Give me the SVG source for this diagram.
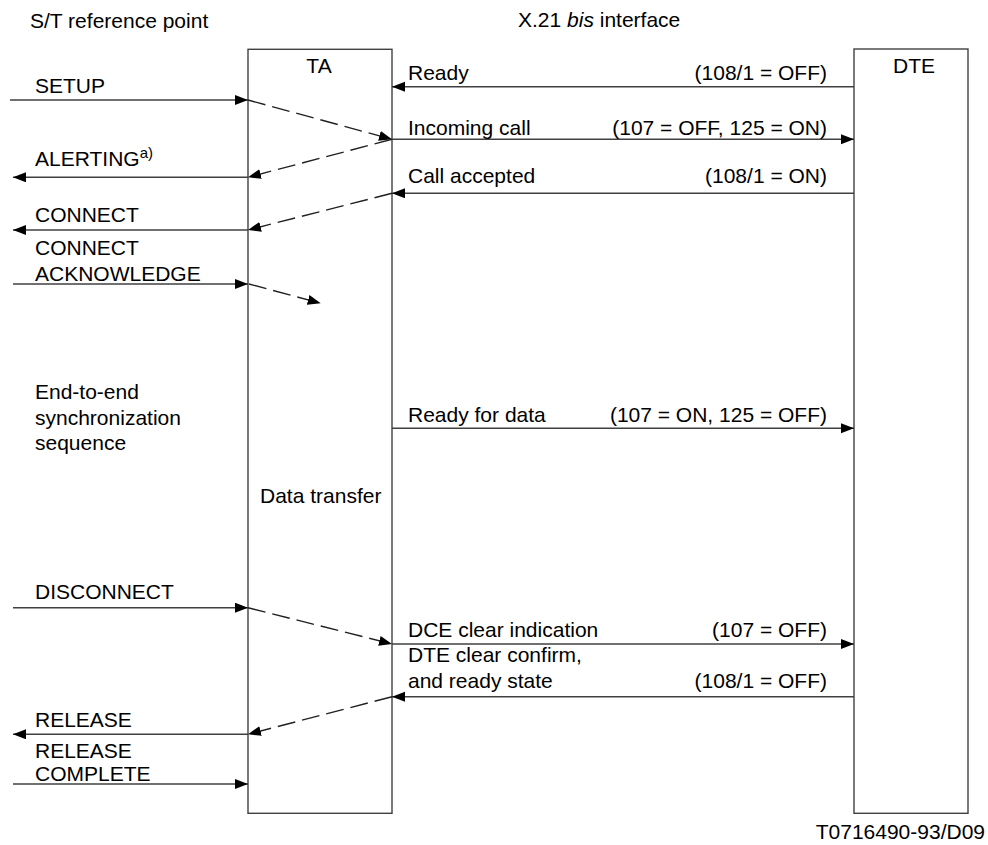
<svg xmlns="http://www.w3.org/2000/svg" width="988" height="845" viewBox="0 0 988 845">
<style>
text{font-family:"Liberation Sans",Arial,sans-serif;font-size:21px;fill:#000}
.r{text-anchor:end}
.c{text-anchor:middle}
.box{fill:#fff;stroke:#404040;stroke-width:1.4}
.ln{stroke:#404040;stroke-width:1.4;fill:none;marker-end:url(#ah)}
.ds{stroke:#202020;stroke-width:1.4;fill:none;stroke-dasharray:18 7;marker-end:url(#ah)}
</style>
<defs>
<marker id="ah" markerUnits="userSpaceOnUse" markerWidth="14" markerHeight="11" refX="13" refY="5" orient="auto">
<path d="M0,0 L13,5 L0,10 z" fill="#000"/>
</marker>
</defs>
<rect width="988" height="845" fill="#fff"/>
<text x="30" y="28">S/T reference point</text>
<text x="518" y="27">X.21 <tspan font-style="italic">bis</tspan> interface</text>
<g id="TA">
<rect class="box" x="248" y="49.3" width="144" height="764"/>
<text class="c" x="319" y="72.7">TA</text>
<text x="260" y="503.3">Data transfer</text>
</g>
<g id="DTE">
<rect class="box" x="854" y="49" width="114" height="764.3"/>
<text class="c" x="914" y="73.3">DTE</text>
</g>
<g id="connectors">
<line class="ln" x1="10" y1="100" x2="248" y2="100"/>
<line class="ln" x1="248" y1="177.3" x2="13" y2="177.3"/>
<line class="ln" x1="248" y1="230" x2="13" y2="230"/>
<line class="ln" x1="13" y1="284" x2="248" y2="284"/>
<line class="ln" x1="13" y1="607.7" x2="248" y2="607.7"/>
<line class="ln" x1="248" y1="734.3" x2="13" y2="734.3"/>
<line class="ln" x1="13" y1="784" x2="248" y2="784"/>
<line class="ln" x1="854" y1="86.7" x2="392" y2="86.7"/>
<line class="ln" x1="392" y1="139.3" x2="854" y2="139.3"/>
<line class="ln" x1="854" y1="193.3" x2="392" y2="193.3"/>
<line class="ln" x1="392" y1="428.3" x2="854" y2="428.3"/>
<line class="ln" x1="392" y1="644" x2="854" y2="644"/>
<line class="ln" x1="854" y1="696.7" x2="392" y2="696.7"/>
<line class="ds" x1="248" y1="100" x2="392" y2="139.3"/>
<line class="ds" x1="392" y1="139.3" x2="248" y2="177.3"/>
<line class="ds" x1="392" y1="193.3" x2="248" y2="230"/>
<line class="ds" x1="249" y1="284" x2="320.7" y2="303.3"/>
<line class="ds" x1="248" y1="607.7" x2="392" y2="644"/>
<line class="ds" x1="392" y1="696.7" x2="248" y2="734.3"/>
</g>
<g id="labels">
<text x="35" y="92.7">SETUP</text>
<text x="35" y="166">ALERTING<tspan font-size="15" dy="-8">a)</tspan></text>
<text x="35" y="221.7">CONNECT</text>
<text x="35" y="255">CONNECT</text>
<text x="35" y="280.7">ACKNOWLEDGE</text>
<text x="35" y="399">End-to-end</text>
<text x="35" y="424.5">synchronization</text>
<text x="35" y="450">sequence</text>
<text x="35" y="599.3">DISCONNECT</text>
<text x="35" y="727">RELEASE</text>
<text x="35" y="757.5" font-size="20">RELEASE</text>
<text x="35" y="780.5" font-size="20">COMPLETE</text>
<text x="408" y="80">Ready</text>
<text class="r" x="827" y="80">(108/1 = OFF)</text>
<text x="408" y="135">Incoming call</text>
<text class="r" x="827" y="135">(107 = OFF, 125 = ON)</text>
<text x="408" y="183.3">Call accepted</text>
<text class="r" x="827" y="183.3">(108/1 = ON)</text>
<text x="408" y="421.7">Ready for data</text>
<text class="r" x="827" y="421.7">(107 = ON, 125 = OFF)</text>
<text x="408" y="636.7">DCE clear indication</text>
<text class="r" x="827" y="636.7">(107 = OFF)</text>
<text x="408" y="661.7">DTE clear confirm,</text>
<text x="408" y="688.3">and ready state</text>
<text class="r" x="827" y="688.3">(108/1 = OFF)</text>
<text class="r" x="985" y="839" font-size="17">T0716490-93/D09</text>
</g>
</svg>
